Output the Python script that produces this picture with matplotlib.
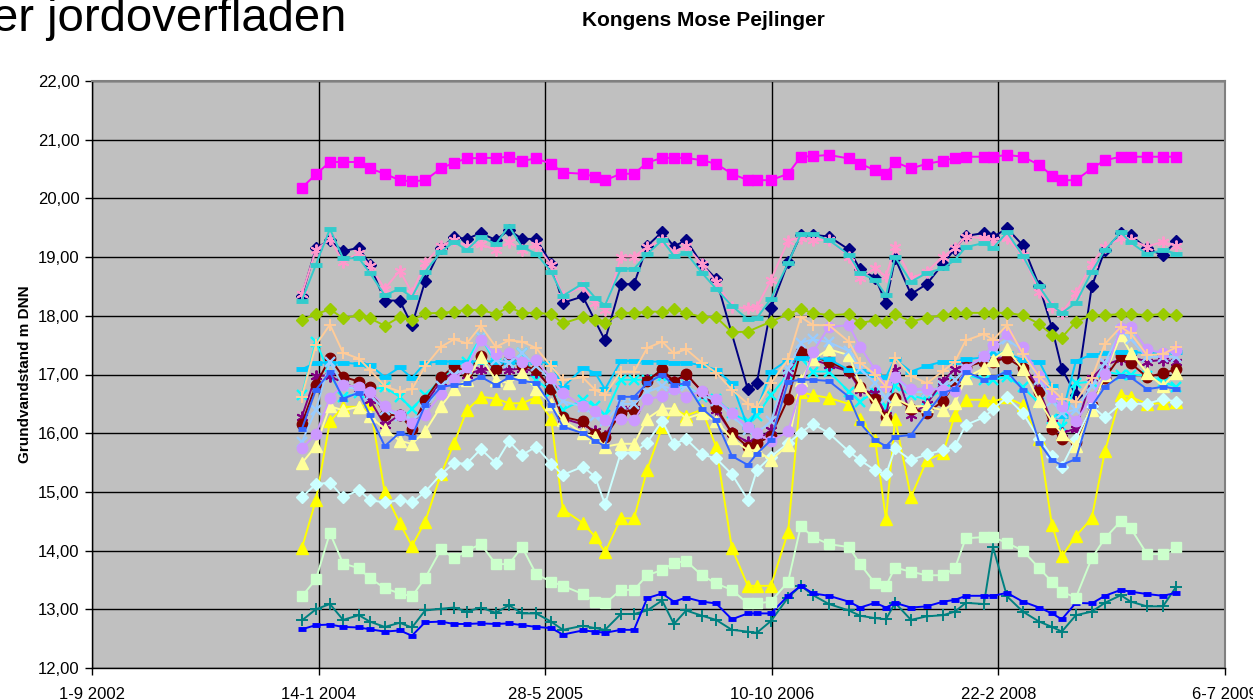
import matplotlib
matplotlib.use("Agg")
import matplotlib.pyplot as plt
import numpy as np
import pandas as pd

nan = np.nan

dates = ["2003-12-08","2004-01-08","2004-02-08","2004-03-08","2004-04-12","2004-05-06","2004-06-08","2004-07-11","2004-08-07","2004-09-05",
         "2004-10-10","2004-11-08","2004-12-06","2005-01-06","2005-02-08","2005-03-09","2005-04-07","2005-05-08","2005-06-10","2005-07-06",
         "2005-08-19","2005-09-15","2005-10-07","2005-11-11","2005-12-10","2006-01-08","2006-02-10","2006-03-08","2006-04-04","2006-05-09",
         "2006-06-09","2006-07-14","2006-08-18","2006-09-07","2006-10-08","2006-11-15","2006-12-13","2007-01-09","2007-02-13","2007-03-29",
         "2007-04-23","2007-05-26","2007-06-19","2007-07-09","2007-08-13","2007-09-17","2007-10-23","2007-11-18","2007-12-12","2008-01-21",
         "2008-02-10","2008-03-12","2008-04-16","2008-05-22","2008-06-19","2008-07-11","2008-08-11","2008-09-15","2008-10-14","2008-11-18",
         "2008-12-10","2009-01-15","2009-02-19","2009-03-20"]

navy = [18.34,19.15,19.29,19.10,19.16,18.87,18.26,18.26,17.84,18.59,
        19.15,19.34,19.31,19.41,19.29,19.46,19.31,19.31,18.89,18.22,
        18.33,nan,17.58,18.54,18.54,19.19,19.43,19.18,19.29,18.88,
        18.63,nan,16.75,16.86,18.13,18.91,19.38,19.38,19.35,19.13,
        18.79,18.65,18.22,18.98,18.37,18.54,18.89,19.14,19.36,19.41,
        19.34,19.49,19.20,18.51,17.80,17.10,16.65,18.50,19.12,19.41,
        19.37,19.15,19.03,19.27]
magenta = [20.18,20.41,20.62,20.62,20.62,20.51,20.42,20.31,20.29,20.31,
           20.51,20.61,20.68,20.69,20.69,20.71,20.64,20.68,20.59,20.44,
           20.42,20.37,20.31,20.42,20.42,20.61,20.69,20.69,20.69,20.65,
           20.59,20.42,20.31,20.31,20.31,20.42,20.71,20.72,20.74,20.68,
           20.59,20.48,20.42,20.62,20.51,20.59,20.64,20.69,20.71,20.71,
           20.71,20.74,20.71,20.57,20.39,20.31,20.31,20.51,20.65,20.71,
           20.71,20.71,20.71,20.71]
yellow = [14.04,14.86,16.20,16.45,16.45,16.50,14.99,14.47,14.08,14.49,
          15.30,15.83,16.39,16.62,16.59,16.51,16.51,16.61,16.25,14.70,
          14.47,14.24,13.97,14.55,14.55,15.38,16.10,16.42,16.30,16.40,
          15.77,14.04,13.40,13.40,13.40,14.32,16.70,16.65,16.60,16.50,
          16.25,15.88,14.53,16.25,14.91,15.54,15.66,16.31,16.57,16.57,
          16.54,16.61,16.48,15.90,14.44,13.90,14.25,14.55,15.69,16.65,
          16.62,16.50,16.51,16.54]
cyan_x = [16.65,17.56,17.00,16.62,16.68,16.75,16.78,16.62,16.42,16.65,
          16.91,17.14,17.22,17.64,17.19,17.19,17.36,16.91,16.71,16.40,
          16.57,16.46,16.31,16.91,16.91,16.91,16.96,16.79,16.82,16.62,
          16.59,16.34,16.20,16.30,16.65,17.00,17.28,17.05,17.05,16.71,
          16.54,16.71,16.45,16.80,16.65,16.57,16.75,16.88,17.00,16.91,
          16.91,16.96,16.78,16.51,16.25,16.11,16.85,16.88,17.05,17.00,
          17.00,16.98,16.88,16.79]
purple = [16.28,16.98,16.98,16.85,16.76,16.57,16.14,16.31,16.11,16.51,
          16.88,17.05,17.00,17.08,17.08,17.08,17.10,17.05,16.78,16.25,
          16.15,16.03,15.95,16.42,16.42,16.91,17.05,16.88,17.00,16.71,
          16.40,16.00,15.85,15.88,16.05,17.03,17.39,17.26,17.16,17.05,
          16.74,16.68,16.31,17.08,16.31,16.50,16.89,17.09,17.16,17.22,
          17.25,17.30,17.19,16.74,16.18,16.00,16.08,16.94,17.16,17.26,
          17.30,17.22,17.25,17.22]
maroon = [16.16,16.82,17.28,16.96,16.88,16.78,16.31,16.31,16.08,16.57,
          16.95,17.14,17.05,17.32,17.09,17.24,17.16,17.08,16.76,16.28,
          16.20,15.98,15.93,16.35,16.40,16.89,17.09,16.88,17.01,16.71,
          16.45,16.00,15.77,15.83,15.95,16.59,17.39,17.30,17.22,17.06,
          16.79,16.59,16.28,16.60,16.42,16.34,16.55,16.85,17.13,17.22,
          17.22,17.28,17.11,16.71,16.08,15.90,15.85,16.48,16.94,17.32,
          17.19,16.96,17.02,17.09]
teal = [12.81,13.00,13.09,12.82,12.90,12.79,12.70,12.77,12.69,12.98,
        13.01,13.03,12.96,13.03,12.94,13.07,12.93,12.93,12.79,12.65,
        12.72,12.68,12.65,12.92,12.92,12.98,13.15,12.75,12.98,12.89,
        12.82,12.65,12.62,12.60,12.80,13.20,13.40,13.24,13.09,12.98,
        12.89,12.85,12.83,13.11,12.82,12.88,12.90,12.96,13.11,13.09,
        14.06,13.22,12.96,12.79,12.70,12.62,12.90,12.96,13.11,13.24,
        13.13,13.05,13.05,13.38]
blue = [12.66,12.73,12.74,12.70,12.69,12.66,12.62,12.64,12.55,12.78,
        12.79,12.75,12.75,12.76,12.75,12.76,12.73,12.70,12.68,12.57,
        12.64,12.62,12.60,12.65,12.65,13.19,13.27,13.13,13.20,13.13,
        13.10,12.83,12.93,12.93,12.93,13.23,13.40,13.27,13.23,13.13,
        13.03,13.11,13.03,13.11,13.03,13.05,13.13,13.16,13.23,13.23,
        13.23,13.28,13.13,13.03,12.93,12.83,13.11,13.10,13.23,13.33,
        13.30,13.26,13.23,13.28]
skyblue = [17.09,17.20,17.20,17.20,17.18,17.16,16.96,17.12,16.94,17.20,
           17.22,17.22,17.22,17.22,17.22,17.22,17.22,17.22,17.19,16.78,
           17.11,17.03,16.75,17.23,17.23,17.22,17.22,17.20,17.20,17.16,
           17.08,16.85,16.10,16.40,17.05,17.25,17.28,17.28,17.26,17.08,
           17.06,17.00,16.96,17.26,17.05,17.15,17.22,17.22,17.26,17.29,
           17.36,17.36,17.25,17.22,16.80,16.30,17.23,17.34,17.36,17.39,
           17.39,17.36,17.36,17.39]
lightcyan = [14.91,15.13,15.16,14.91,15.03,14.86,14.82,14.86,14.82,15.00,
             15.30,15.49,15.48,15.73,15.49,15.86,15.63,15.77,15.48,15.29,
             15.43,15.26,14.79,15.67,15.67,15.84,16.21,15.82,15.90,15.64,
             15.57,15.30,14.87,15.37,15.60,15.83,16.01,16.16,16.00,15.69,
             15.54,15.37,15.30,15.74,15.54,15.64,15.71,15.78,16.14,16.27,
             16.41,16.61,16.34,15.90,15.61,15.43,15.90,16.46,16.27,16.50,
             16.50,16.50,16.58,16.54]
palegreen = [13.22,13.51,14.30,13.78,13.70,13.53,13.36,13.27,13.22,13.53,
             14.02,13.87,14.00,14.11,13.77,13.77,14.06,13.60,13.47,13.40,
             13.26,13.13,13.10,13.33,13.33,13.58,13.67,13.79,13.82,13.58,
             13.44,13.33,13.10,13.10,13.13,13.47,14.42,14.23,14.11,14.06,
             13.77,13.44,13.40,13.71,13.64,13.58,13.58,13.70,14.21,14.23,
             14.23,14.13,14.00,13.70,13.47,13.30,13.20,13.87,14.21,14.50,
             14.38,13.94,13.94,14.06]
lightyellow = [15.49,15.78,16.46,16.39,16.45,16.29,16.07,15.87,15.82,16.03,
               16.46,16.75,16.91,17.29,16.91,16.85,17.03,16.75,16.50,16.22,
               16.00,15.94,15.77,15.82,15.82,16.25,16.42,16.42,16.25,16.34,
               16.20,15.91,15.71,15.71,15.54,15.80,16.90,17.26,17.43,17.33,
               16.82,16.50,16.24,16.59,16.46,16.46,16.39,16.51,16.94,17.11,
               17.25,17.43,17.09,16.55,16.20,15.99,15.78,16.40,17.00,17.67,
               17.37,17.03,16.80,17.03]
lightblue_x = [15.85,16.40,17.22,16.80,16.75,16.65,16.40,16.30,16.20,16.40,
               16.80,17.00,17.10,17.64,17.25,17.20,17.36,17.15,16.90,16.55,
               16.45,16.30,16.20,16.50,16.50,16.70,16.80,16.75,16.80,16.65,
               16.55,16.30,16.05,16.00,16.20,17.10,17.54,17.60,17.55,17.40,
               17.10,16.85,16.60,16.95,16.70,16.70,16.80,16.90,17.10,17.30,
               17.45,17.60,17.40,16.90,16.55,16.35,16.40,16.80,17.20,17.75,
               17.60,17.30,17.30,17.30]
pink = [18.37,19.12,19.31,18.92,19.07,18.85,18.46,18.77,18.39,18.90,
        19.19,19.29,19.19,19.22,19.12,19.26,19.12,19.21,18.87,18.34,
        18.50,18.22,18.10,19.01,19.01,19.17,19.29,19.09,19.19,18.88,
        18.58,18.15,18.13,18.15,18.61,19.28,19.33,19.29,19.29,19.01,
        18.64,18.81,18.67,19.18,18.64,18.75,19.01,19.15,19.35,19.32,
        19.29,19.32,19.03,18.41,18.15,18.05,18.38,18.89,19.18,19.32,
        19.29,19.18,19.26,19.19]
lavender = [15.74,15.98,16.60,16.82,16.79,16.71,16.46,16.31,16.18,16.31,
            16.67,16.92,17.12,17.58,17.35,17.36,17.22,17.24,16.94,16.69,
            16.46,16.37,16.22,16.24,16.22,16.58,16.63,16.76,16.62,16.72,
            16.58,16.34,16.10,16.00,15.86,16.03,16.76,17.39,17.81,17.84,
            17.47,17.08,16.80,16.96,16.75,16.76,16.74,16.72,17.10,17.32,
            17.50,17.69,17.46,16.97,16.62,16.46,16.20,16.61,17.01,17.80,
            17.81,17.43,17.36,17.41]
orange = [16.62,17.50,17.85,17.37,17.27,17.08,16.80,16.71,16.75,17.14,
          17.47,17.60,17.53,17.83,17.47,17.58,17.56,17.45,17.14,16.91,
          16.95,16.74,16.65,17.05,17.05,17.45,17.56,17.36,17.43,17.20,
          17.03,16.74,16.50,16.44,16.85,17.26,17.98,17.84,17.84,17.56,
          17.20,17.00,16.79,17.28,16.98,16.85,17.06,17.22,17.58,17.69,
          17.59,17.84,17.35,16.96,16.75,16.59,16.54,16.94,17.52,17.81,
          17.70,17.33,17.35,17.46]
royalblue = [16.07,16.74,17.04,16.59,16.69,16.31,15.78,16.01,15.94,16.48,
             16.79,16.82,16.85,16.96,16.82,16.95,16.89,16.86,16.48,16.11,
             16.00,15.87,15.78,16.62,16.62,16.85,17.00,16.82,16.85,16.42,
             16.22,15.61,15.46,15.65,15.88,16.88,16.91,16.91,16.89,16.62,
             16.17,15.88,15.78,15.94,15.97,16.34,16.69,16.75,17.05,16.91,
             16.95,17.05,16.74,15.84,15.54,15.46,15.56,16.46,16.79,16.98,
             16.95,16.75,16.79,16.76]
tealcyan = [18.26,18.87,19.48,18.98,18.98,18.73,18.35,18.46,18.32,18.75,
            19.09,19.26,19.12,19.35,19.22,19.53,19.17,19.06,18.75,18.34,
            18.55,18.31,18.18,18.80,18.80,19.05,19.29,19.02,19.07,18.73,
            18.46,18.17,17.94,17.96,18.29,18.90,19.39,19.39,19.29,19.04,
            18.73,18.61,18.35,19.00,18.58,18.73,18.81,18.95,19.17,19.24,
            19.15,19.42,19.02,18.50,18.18,18.05,18.22,18.75,19.12,19.42,
            19.25,19.05,19.12,19.06]
yellowgreen = [17.93,18.03,18.11,17.96,18.01,17.96,17.83,17.98,17.92,18.04,
               18.05,18.07,18.10,18.10,18.03,18.15,18.05,18.05,18.03,17.87,
               17.98,17.92,17.87,18.05,18.05,18.07,18.07,18.11,18.05,17.98,
               17.98,17.72,17.73,nan,17.90,18.03,18.11,18.05,18.01,18.03,
               17.88,17.92,17.90,18.03,17.90,17.97,18.01,18.04,18.05,18.05,
               18.05,18.05,18.01,17.86,17.68,17.63,17.90,18.01,18.01,18.03,
               18.03,18.01,18.03,18.01]

tick_dates = ["2002-09-01", "2004-01-14", "2005-05-28", "2006-10-10", "2008-02-22", "2009-07-06"]
tick_labels = ["1-9 2002", "14-1 2004", "28-5 2005", "10-10 2006", "22-2 2008", "6-7 2009"]
y_ticks = [12, 13, 14, 15, 16, 17, 18, 19, 20, 21, 22]

title = "Kongens Mose Pejlinger"
ylabel = "Grundvandstand m DNN"
slide_text = "er jordoverfladen"

ASTER = (6, 2, 0)
series = [
    (navy, "#000080", "D", 6.5, 1.0),
    (magenta, "#FF00FF", "s", 7.0, 1.0),
    (yellow, "#FFFF00", "^", 8.0, 1.0),
    (cyan_x, "#00FFFF", "x", 7.0, 1.7),
    (purple, "#800080", ASTER, 8.5, 1.4),
    (maroon, "#800000", "o", 7.5, 1.0),
    (teal, "#008080", "+", 9.0, 1.4),
    (blue, "#0000FF", "_", 5.5, 3.5),
    (skyblue, "#00CCFF", "_", 9.0, 3.5),
    (lightcyan, "#CCFFFF", "D", 6.5, 1.0),
    (palegreen, "#CCFFCC", "s", 6.5, 1.0),
    (lightyellow, "#FFFF99", "^", 8.0, 1.0),
    (lightblue_x, "#99CCFF", "x", 7.0, 1.7),
    (pink, "#FF99CC", ASTER, 8.5, 1.4),
    (lavender, "#CC99FF", "o", 7.5, 1.0),
    (orange, "#FFCC99", "+", 9.0, 1.4),
    (royalblue, "#3366FF", "_", 5.5, 3.5),
    (tealcyan, "#33CCCC", "_", 9.0, 3.5),
    (yellowgreen, "#99CC00", "D", 6.5, 1.0),
]

plt.rcParams["font.family"] = ["Liberation Sans", "DejaVu Sans"]

W, H = 1253, 700
fig = plt.figure(figsize=(W / 100, H / 100), dpi=100)
fig.patch.set_facecolor("white")
ax = fig.add_axes([92 / W, 1 - 668 / H, (1225 - 92) / W, (668 - 81) / H])
ax.set_facecolor("#C0C0C0")

x = pd.to_datetime(dates)
for vals, col, mk, ms, mew in series:
    v = np.array(vals, dtype=float)
    m = ~np.isnan(v)
    ax.plot(x[m], v[m], color=col, lw=1.4, marker=mk, ms=ms, mew=mew,
            mfc=col, mec=col, zorder=3)

tx = pd.to_datetime(tick_dates)
ax.set_xlim(tx[0], tx[-1])
ax.set_ylim(12, 22)
ax.set_xticks(tx)
ax.set_xticklabels(tick_labels)
ax.set_yticks(y_ticks)
ax.set_yticklabels([f"{t:.2f}".replace(".", ",") for t in y_ticks])
ax.tick_params(axis="both", direction="out", length=5, width=1, colors="black",
               labelsize=12, pad=4)
ax.tick_params(axis="x", pad=9)
ax.grid(True, color="black", lw=1.0, zorder=1)
ax.set_axisbelow(True)
for s in ["left", "bottom"]:
    ax.spines[s].set_color("black")
    ax.spines[s].set_linewidth(1.0)
for s in ["top", "right"]:
    ax.spines[s].set_color("#808080")
    ax.spines[s].set_linewidth(1.5)

ax.set_ylabel(ylabel, fontsize=11, fontweight="bold", labelpad=4)
fig.text(703 / W, 1 - 20 / H, title, ha="center", va="center",
         fontsize=15, fontweight="bold")
fig.text(-8 / W, 1 - 31 / H, slide_text, ha="left", va="baseline", fontsize=34)

fig.savefig("out.png", dpi=100, facecolor="white")
